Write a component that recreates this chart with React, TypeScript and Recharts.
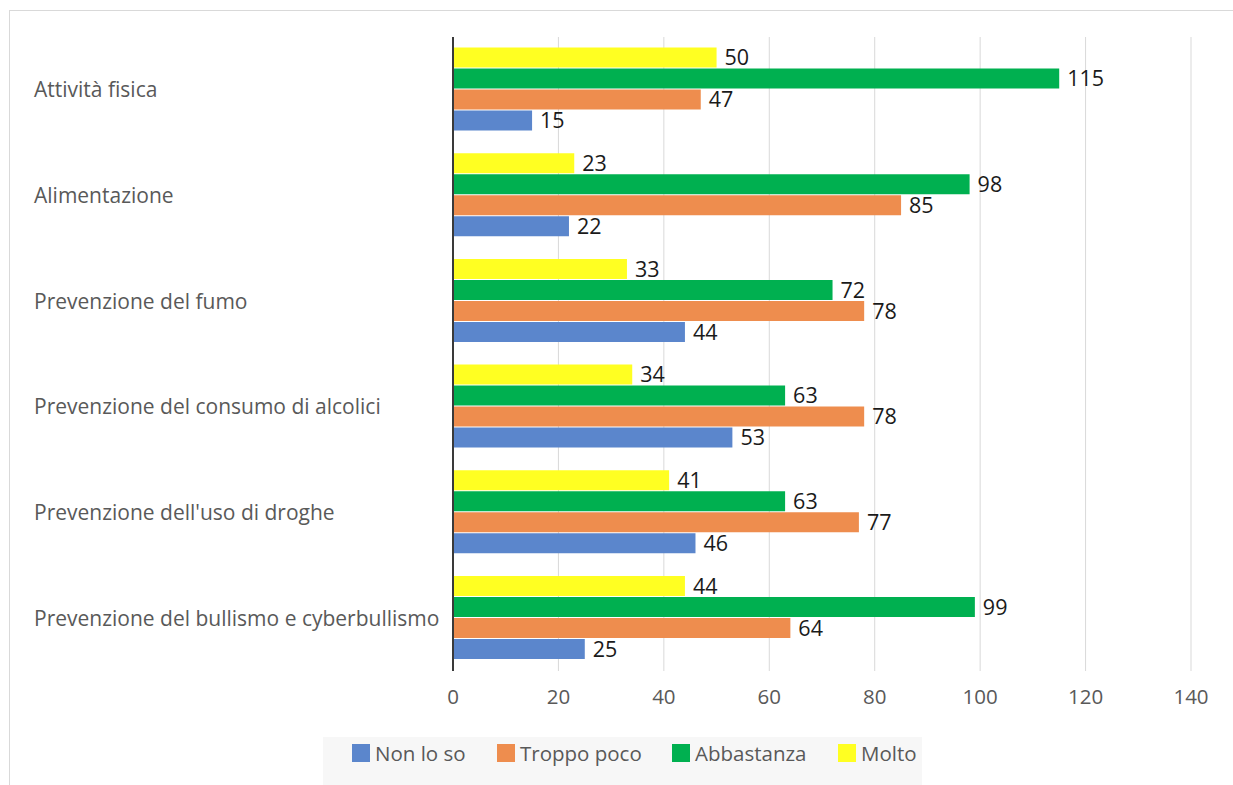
import React from "react";
import { BarChart, Bar, XAxis, YAxis, CartesianGrid, LabelList } from "recharts";

const categories = [
  "Attività fisica",
  "Alimentazione",
  "Prevenzione del fumo",
  "Prevenzione del consumo di alcolici",
  "Prevenzione dell'uso di droghe",
  "Prevenzione del bullismo e cyberbullismo",
];
const nonLoSo = [15, 22, 44, 53, 46, 25];
const troppoPoco = [47, 85, 78, 78, 77, 64];
const abbastanza = [115, 98, 72, 63, 63, 99];
const molto = [50, 23, 33, 34, 41, 44];
const xTicks = [0, 20, 40, 60, 80, 100, 120, 140];

const seriesNames = ["Non lo so", "Troppo poco", "Abbastanza", "Molto"];
const seriesColors = ["#5B86CC", "#EE8D4E", "#00B050", "#FFFF22"];

const data = categories.map((c, i) => ({
  name: c,
  nonLoSo: nonLoSo[i],
  troppoPoco: troppoPoco[i],
  abbastanza: abbastanza[i],
  molto: molto[i],
}));

const FONT = "'Open Sans', 'Noto Sans', sans-serif";

const YTick = (props: any) => {
  const { y, payload } = props;
  return (
    <text x={34} y={y} dy="0.35em" textAnchor="start" fill="#595959" fontSize={21} fontFamily={FONT}>
      {payload.value}
    </text>
  );
};

export default function App() {
  return (
    <div style={{ position: "absolute", left: 0, top: 0, width: 1233, height: 785, background: "#fff", fontFamily: FONT }}>
      <div style={{ position: "absolute", left: 9, top: 10, width: 1240, height: 800, border: "1px solid #d9d9d9" }} />
      <div style={{ position: "absolute", left: 0, top: 0 }}>
        <BarChart
          width={1233}
          height={785}
          data={data}
          layout="vertical"
          margin={{ top: 37, right: 42, bottom: 74, left: 0 }}
          barCategoryGap="10%"
          barGap={1}
        >
          <CartesianGrid horizontal={false} stroke="#d9d9d9" strokeWidth={1} />
          <XAxis
            type="number"
            domain={[0, 140]}
            ticks={xTicks}
            axisLine={false}
            tickLine={false}
            height={40}
            tickMargin={12}
            tick={{ fill: "#595959", fontSize: 20.5, fontFamily: FONT }}
          />
          <YAxis
            type="category"
            dataKey="name"
            width={453}
            axisLine={{ stroke: "#3a3a3a", strokeWidth: 2 }}
            tickLine={false}
            tick={<YTick />}
          />
          <Bar dataKey="molto" fill={seriesColors[3]} isAnimationActive={false}>
            <LabelList dataKey="molto" position="right" offset={8} fill="#1a1a1a" fontSize={21.5} fontFamily={FONT} />
          </Bar>
          <Bar dataKey="abbastanza" fill={seriesColors[2]} isAnimationActive={false}>
            <LabelList dataKey="abbastanza" position="right" offset={8} fill="#1a1a1a" fontSize={21.5} fontFamily={FONT} />
          </Bar>
          <Bar dataKey="troppoPoco" fill={seriesColors[1]} isAnimationActive={false}>
            <LabelList dataKey="troppoPoco" position="right" offset={8} fill="#1a1a1a" fontSize={21.5} fontFamily={FONT} />
          </Bar>
          <Bar dataKey="nonLoSo" fill={seriesColors[0]} isAnimationActive={false}>
            <LabelList dataKey="nonLoSo" position="right" offset={8} fill="#1a1a1a" fontSize={21.5} fontFamily={FONT} />
          </Bar>
        </BarChart>
      </div>
      <div
        style={{
          position: "absolute",
          left: 323,
          top: 737,
          width: 599,
          height: 48,
          background: "#f7f7f7",
        }}
      >
        {seriesNames.map((n, i) => (
          <div
            key={n}
            style={{
              position: "absolute",
              left: [29, 174, 349, 515][i],
              top: 7,
              display: "flex",
              alignItems: "center",
              height: 18,
            }}
          >
            <div style={{ width: 18, height: 18, background: seriesColors[i], marginRight: 5 }} />
            <span style={{ fontSize: 20.5, color: "#595959", lineHeight: "18px", whiteSpace: "nowrap" }}>{n}</span>
          </div>
        ))}
      </div>
    </div>
  );
}
